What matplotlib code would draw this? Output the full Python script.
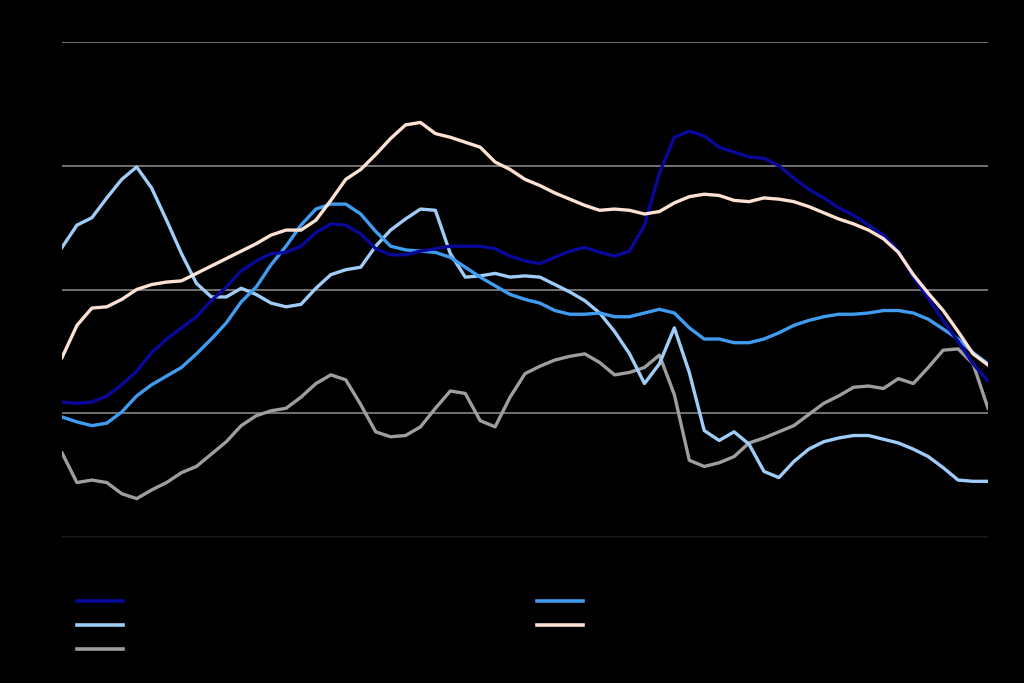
import matplotlib
matplotlib.use("Agg")
import matplotlib.pyplot as plt
from matplotlib.lines import Line2D
import numpy as np

# common x positions (periods)
periods = list(range(63))

series_navy = [10.9, 10.8, 10.9, 11.4, 12.3, 13.4, 14.9, 16.0, 16.9, 17.8,
               19.1, 20.2, 21.5, 22.3, 22.9, 23.0, 23.5, 24.6, 25.3, 25.2,
               24.5, 23.3, 22.8, 22.8, 23.1, 23.3, 23.5, 23.5, 23.5, 23.3,
               22.7, 22.3, 22.1, 22.6, 23.1, 23.4, 23.0, 22.7, 23.1, 25.2,
               29.4, 32.3, 32.8, 32.4, 31.5, 31.1, 30.7, 30.6, 30.0, 29.0,
               28.1, 27.4, 26.6, 26.0, 25.2, 24.4, 23.1, 21.0, 19.3, 17.5,
               15.8, 14.0, 12.6]

series_medblue = [9.7, 9.3, 9.0, 9.2, 10.1, 11.4, 12.3, 13.0, 13.7, 14.8,
                  16.0, 17.3, 19.0, 20.2, 22.0, 23.5, 25.2, 26.5, 26.9, 26.9,
                  26.1, 24.7, 23.5, 23.2, 23.1, 23.0, 22.6, 21.8, 21.0, 20.3,
                  19.6, 19.2, 18.9, 18.3, 18.0, 18.0, 18.1, 17.8, 17.8, 18.1,
                  18.4, 18.1, 16.9, 16.0, 16.0, 15.7, 15.7, 16.0, 16.5, 17.1,
                  17.5, 17.8, 18.0, 18.0, 18.1, 18.3, 18.3, 18.1, 17.6, 16.8,
                  16.0, 14.9, 14.0]

series_lightblue = [23.4, 25.2, 25.8, 27.4, 28.9, 29.9, 28.2, 25.6, 22.9, 20.5,
                    19.4, 19.4, 20.1, 19.6, 18.9, 18.6, 18.8, 20.1, 21.2, 21.6,
                    21.8, 23.5, 24.8, 25.7, 26.5, 26.4, 22.9, 21.0, 21.1, 21.3,
                    21.0, 21.1, 21.0, 20.4, 19.8, 19.1, 18.1, 16.6, 14.8, 12.4,
                    14.0, 16.9, 13.3, 8.6, 7.8, 8.5, 7.5, 5.3, 4.8, 6.1,
                    7.1, 7.7, 8.0, 8.2, 8.2, 7.9, 7.6, 7.1, 6.5, 5.6,
                    4.6, 4.5, 4.5]

series_peach = [14.5, 17.1, 18.5, 18.6, 19.2, 20.0, 20.4, 20.6, 20.7, 21.3,
                21.9, 22.5, 23.1, 23.7, 24.4, 24.8, 24.8, 25.6, 27.2, 28.9,
                29.7, 30.9, 32.2, 33.3, 33.5, 32.6, 32.3, 31.9, 31.5, 30.3,
                29.7, 28.9, 28.4, 27.8, 27.3, 26.8, 26.4, 26.5, 26.4, 26.1,
                26.3, 27.0, 27.5, 27.7, 27.6, 27.2, 27.1, 27.4, 27.3, 27.1,
                26.7, 26.2, 25.7, 25.3, 24.8, 24.1, 23.0, 21.2, 19.7, 18.3,
                16.6, 14.8, 13.9]

series_gray = [6.8, 4.4, 4.6, 4.4, 3.5, 3.1, 3.8, 4.4, 5.2, 5.7,
               6.7, 7.7, 9.0, 9.8, 10.2, 10.4, 11.3, 12.4, 13.1, 12.7,
               10.7, 8.5, 8.1, 8.2, 8.9, 10.4, 11.8, 11.6, 9.4, 8.9,
               11.3, 13.2, 13.8, 14.3, 14.6, 14.8, 14.1, 13.1, 13.3, 13.7,
               14.7, 11.5, 6.2, 5.7, 6.0, 6.5, 7.6, 8.0, 8.5, 9.0,
               9.9, 10.8, 11.4, 12.1, 12.2, 12.0, 12.8, 12.4, 13.7, 15.1,
               15.2, 14.0, 10.4]

y_ticks = [0, 10, 20, 30, 40]
labels = ["Series 1", "Series 2", "Series 3", "Series 4", "Series 5"]

c_navy = "#08089a"
c_med = "#3f9cf0"
c_light = "#9fcdf7"
c_peach = "#fde1d2"
c_gray = "#9e9e9e"

fig = plt.figure(figsize=(10.24, 6.83), dpi=100, facecolor="black")
ax = fig.add_axes([62 / 1024, 1 - 537 / 683, (988 - 62) / 1024, (537 - 42) / 683])
ax.set_facecolor("black")

lw = 2.4
order = [
    (series_gray, c_gray),
    (series_lightblue, c_light),
    (series_medblue, c_med),
    (series_navy, c_navy),
    (series_peach, c_peach),
]
for data, col in order:
    ax.plot(periods, data, color=col, lw=lw, solid_joinstyle="round", zorder=3)

ax.set_xlim(periods[0], periods[-1])
ax.set_ylim(y_ticks[0], y_ticks[-1])
ax.set_yticks(y_ticks)
ax.yaxis.grid(True, color="#7a7a7a", lw=1.3)
ax.set_axisbelow(True)
for s in ["left", "right", "top"]:
    ax.spines[s].set_visible(False)
ax.spines["bottom"].set_color("#101010")
ax.spines["bottom"].set_linewidth(1.3)
ax.tick_params(colors="black", labelcolor="black", length=0)
ax.set_xticks([])

handles1 = [Line2D([], [], color=c_navy, lw=2.6),
            Line2D([], [], color=c_light, lw=2.6),
            Line2D([], [], color=c_gray, lw=2.6)]
handles2 = [Line2D([], [], color=c_med, lw=2.6),
            Line2D([], [], color=c_peach, lw=2.6)]
leg_kw = dict(frameon=False, fontsize=10, handlelength=3.3, labelspacing=0.7,
              borderpad=0, borderaxespad=0, labelcolor="black", loc="upper left")
leg1 = fig.legend(handles1, [labels[0], labels[2], labels[4]],
                  bbox_to_anchor=(77 / 1024, 1 - 595 / 683), **leg_kw)
leg2 = fig.legend(handles2, [labels[1], labels[3]],
                  bbox_to_anchor=(537 / 1024, 1 - 595 / 683), **leg_kw)

fig.savefig("out.png", dpi=100, facecolor="black")
